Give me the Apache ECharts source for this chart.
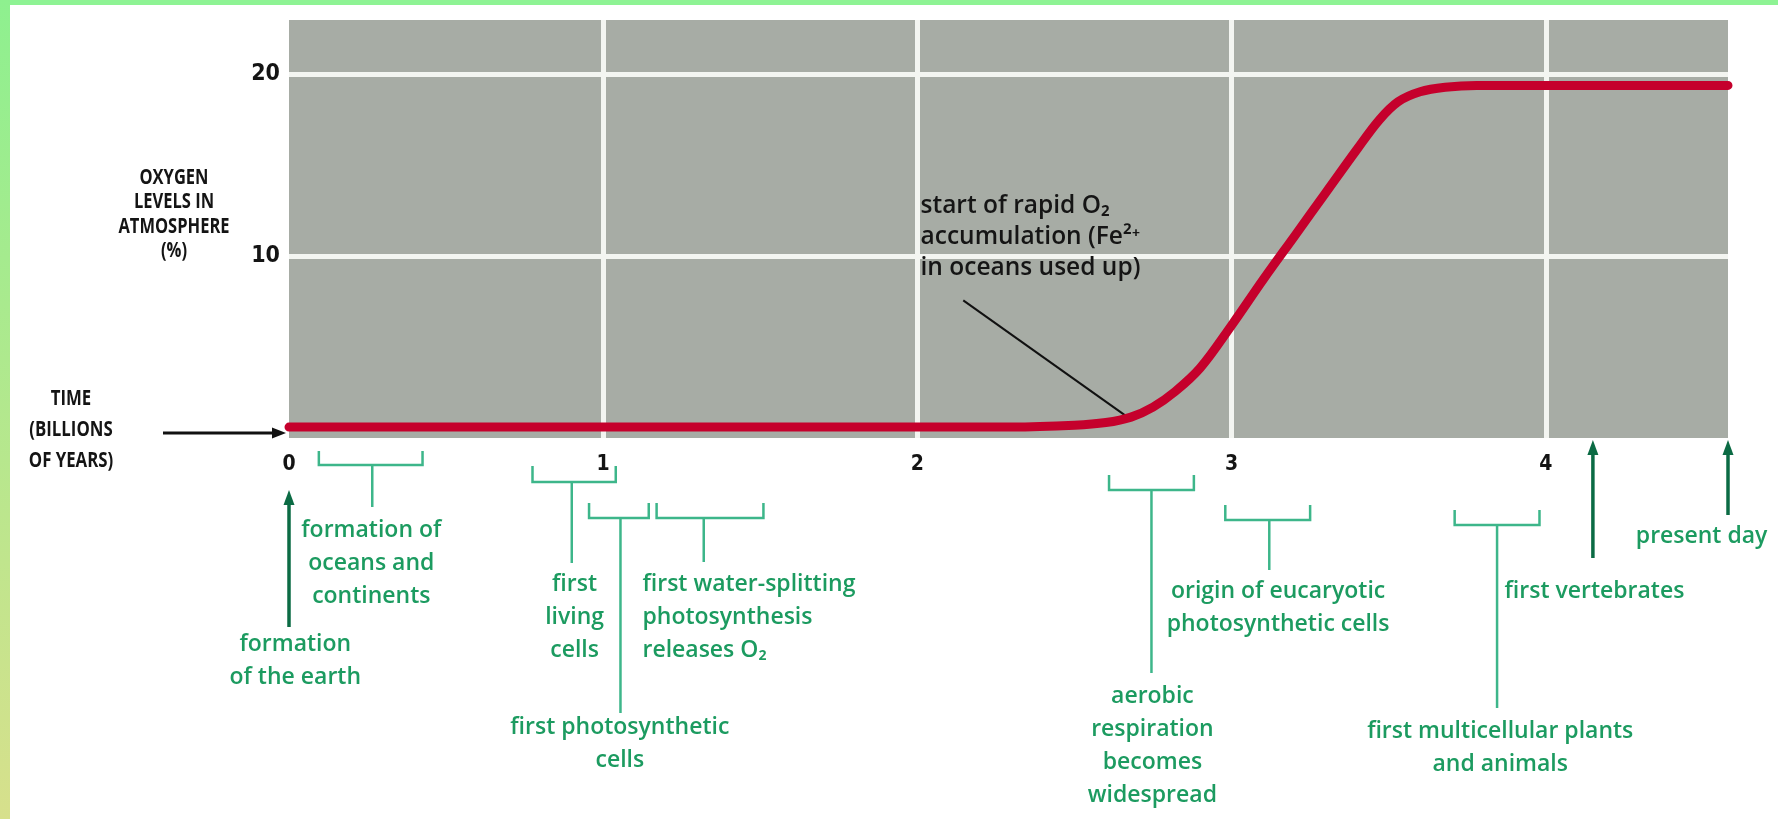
<!DOCTYPE html>
<html>
<head>
<meta charset="utf-8">
<script src="https://cdn.jsdelivr.net/npm/echarts@6/dist/echarts.min.js"></script>
<style>
html,body{margin:0;padding:0;background:#fff;}
#chart{width:1778px;height:819px;}
</style>
</head>
<body>
<div id="chart"></div>
<script>
// ---------- DATA ----------
// time since formation of the earth (billions of years)
const timeBillionYears = [0, 2.3, 2.5, 2.6, 2.68, 2.75, 2.82, 2.9, 3.0, 3.1, 3.2, 3.3, 3.4, 3.47, 3.53, 3.6, 3.68, 3.78, 4.58];
// oxygen level in the atmosphere (%)
const oxygenPercent   = [0.6, 0.6, 0.7, 0.85, 1.15, 1.7, 2.55, 3.85, 6.2, 8.7, 11.1, 13.5, 15.9, 17.5, 18.5, 19.05, 19.3, 19.4, 19.4];

const xTickLabels = ['0', '1', '2', '3', '4'];
const yTickLabels = ['10', '20'];

// events on the time line
const eventLabels = [
  'formation\nof the earth',
  'formation of\noceans and\ncontinents',
  'first\nliving\ncells',
  'first photosynthetic\ncells',
  'first water-splitting\nphotosynthesis\nreleases O\u2082',
  'aerobic\nrespiration\nbecomes\nwidespread',
  'origin of eucaryotic\nphotosynthetic cells',
  'first multicellular plants\nand animals',
  'first vertebrates',
  'present day'
];
const eventKind  = ['point', 'span', 'span', 'span', 'span', 'span', 'span', 'span', 'point', 'point'];
const eventStart = [0, 0.095, 0.775, 0.955, 1.17, 2.61, 2.98, 3.71, 4.15, 4.58];
const eventEnd   = [0, 0.425, 1.04, 1.145, 1.51, 2.88, 3.25, 3.98, 4.15, 4.58];
const eventTime  = [0, 0.265, 0.9, 1.055, 1.32, 2.745, 3.12, 3.845, 4.15, 4.58];

// annotation inside the plot
const noteText = 'start of rapid O\u2082\naccumulation (Fe\u00b2\u207a\nin oceans used up)';
const noteAnchor = [2.01, 12.77];
const noteLeader = [[2.146, 7.57], [2.668, 1.16]];

// ---------- LAYOUT / STYLE (pixels) ----------
const eventLabelTime = [0.02, 0.262, 0.909, 1.053, 1.125, 2.748, 3.148, 3.855, 4.155, 4.496];
const eventLabelAlign = ['center','center','center','center','left','center','center','center','center','center'];
const layTop  = [52, 13, 28, 65, 65, 37, 67, 72, 2, 2];
const layBar  = [0, 27, 44, 80, 80, 52, 82, 87, 0, 0];
const layEnd  = [189, 69, 125, 275, 124, 235, 132, 270, 120, 77];
const layText = [206, 92, 146, 289, 146, 258, 153, 293, 153, 98];

const GREEN_TEXT = '#1c9b60';
const GREEN_LINE = '#3db68a';
const GREEN_ARROW = '#0b6b44';
const LINE_H = 33;
const FONT = '"Open Sans", "DejaVu Sans", sans-serif';

const chart = echarts.init(document.getElementById('chart'), null, {renderer: 'canvas'});

function renderEvent(params, api) {
  const i = api.value(2);
  const base = api.coord([0, 0])[1];
  const sx = api.coord([eventTime[i], 0])[0];
  const children = [];
  if (eventKind[i] === 'span') {
    const x0 = api.coord([eventStart[i], 0])[0];
    const x1 = api.coord([eventEnd[i], 0])[0];
    children.push({
      type: 'polyline',
      shape: {points: [[x0, base + layTop[i]], [x0, base + layBar[i]], [x1, base + layBar[i]], [x1, base + layTop[i]]]},
      style: {stroke: GREEN_LINE, lineWidth: 2.5, fill: null}
    });
    children.push({
      type: 'line',
      shape: {x1: sx, y1: base + layBar[i], x2: sx, y2: base + layEnd[i]},
      style: {stroke: GREEN_LINE, lineWidth: 2.5}
    });
  } else {
    const tip = base + layTop[i];
    children.push({
      type: 'line',
      shape: {x1: sx, y1: tip + 10, x2: sx, y2: base + layEnd[i]},
      style: {stroke: GREEN_ARROW, lineWidth: 3.5}
    });
    children.push({
      type: 'polygon',
      shape: {points: [[sx, tip], [sx - 5.5, tip + 15], [sx + 5.5, tip + 15]]},
      style: {fill: GREEN_ARROW}
    });
  }
  const tx = api.coord([eventLabelTime[i], 0])[0];
  children.push({
    type: 'text',
    style: {
      text: eventLabels[i],
      x: tx,
      y: base + layText[i] - LINE_H / 2,
      align: eventLabelAlign[i],
      verticalAlign: 'top',
      lineHeight: LINE_H,
      font: '600 23px ' + FONT,
      fill: GREEN_TEXT
    }
  });
  return {type: 'group', children: children};
}

function renderNote(params, api) {
  const p = api.coord(noteAnchor);
  const a = api.coord(noteLeader[0]);
  const b = api.coord(noteLeader[1]);
  return {
    type: 'group',
    children: [
      {type: 'line', shape: {x1: a[0], y1: a[1], x2: b[0], y2: b[1]}, style: {stroke: '#111', lineWidth: 2}},
      {type: 'text', style: {
        text: noteText, x: p[0], y: p[1] - 15.5, align: 'left', verticalAlign: 'top',
        lineHeight: 31, font: '600 24.5px ' + FONT, fill: '#151515'
      }}
    ]
  };
}

const option = {
  animation: false,
  backgroundColor: '#ffffff',
  grid: {
    left: 289, right: 50, top: 20, bottom: 381,
    show: true, backgroundColor: '#a7aca5', borderWidth: 0
  },
  xAxis: {
    type: 'value', min: 0, max: 4.58, interval: 1,
    axisLine: {show: false}, axisTick: {show: false},
    splitLine: {show: true, showMinLine: false, showMaxLine: false, lineStyle: {color: '#f3f5f1', width: 5}},
    axisLabel: {
      show: true, showMaxLabel: false, margin: 16,
      fontFamily: '"DejaVu Sans Condensed", "Open Sans", sans-serif', fontWeight: 'bold', fontSize: 21, color: '#141414',
      formatter: function (v) { const s = String(v); return xTickLabels.indexOf(s) >= 0 ? s : ''; }
    }
  },
  yAxis: {
    type: 'value', min: 0, max: 23, interval: 10,
    axisLine: {show: false}, axisTick: {show: false},
    splitLine: {show: true, showMinLine: false, showMaxLine: false, lineStyle: {color: '#f3f5f1', width: 5}},
    axisLabel: {
      show: true, showMaxLabel: false, margin: 9,
      fontFamily: '"DejaVu Sans Condensed", "Open Sans", sans-serif', fontWeight: 'bold', fontSize: 23, color: '#141414',
      formatter: function (v) { const s = String(v); return yTickLabels.indexOf(s) >= 0 ? s : ''; }
    }
  },
  series: [
    {
      type: 'line',
      data: timeBillionYears.map((t, i) => [t, oxygenPercent[i]]),
      smooth: 0.35,
      symbol: 'none',
      lineStyle: {color: '#c5002c', width: 9, cap: 'round', join: 'round'},
      z: 5
    },
    {
      type: 'custom',
      clip: false,
      renderItem: renderEvent,
      data: eventTime.map((t, i) => [t, 0, i]),
      encode: {x: 0, y: 1},
      silent: true,
      z: 6
    },
    {
      type: 'custom',
      clip: false,
      renderItem: renderNote,
      data: [[noteAnchor[0], noteAnchor[1]]],
      encode: {x: 0, y: 1},
      silent: true,
      z: 4
    }
  ],
  graphic: [
    {type: 'rect', x: 0, y: 0, shape: {width: 1778, height: 5}, style: {fill: '#8ef394'}, silent: true},
    {type: 'rect', x: 0, y: 0, shape: {width: 10, height: 819},
      style: {fill: new echarts.graphic.LinearGradient(0, 0, 0, 1, [{offset: 0, color: '#8ef08f'}, {offset: 1, color: '#d7e08c'}])}, silent: true},
    {type: 'text', x: 174, y: 165, scaleX: 0.75, style: {
      x: 0, y: 0,
      text: 'OXYGEN\nLEVELS IN\nATMOSPHERE\n(%)', align: 'center', verticalAlign: 'top', lineHeight: 24.5,
      font: 'bold 22px "Open Sans", sans-serif', fill: '#141414'}, silent: true},
    {type: 'text', x: 71, y: 384, scaleX: 0.8, style: {
      x: 0, y: 0,
      text: 'TIME\n(BILLIONS\nOF YEARS)', align: 'center', verticalAlign: 'top', lineHeight: 31,
      font: 'bold 21px "Open Sans", sans-serif', fill: '#141414'}, silent: true},
    {type: 'line', shape: {x1: 163, y1: 433, x2: 274, y2: 433}, style: {stroke: '#111', lineWidth: 3}, silent: true},
    {type: 'polygon', shape: {points: [[286, 433], [272, 427.5], [272, 438.5]]}, style: {fill: '#111'}, silent: true}
  ]
};
chart.setOption(option);
</script>
</body>
</html>
